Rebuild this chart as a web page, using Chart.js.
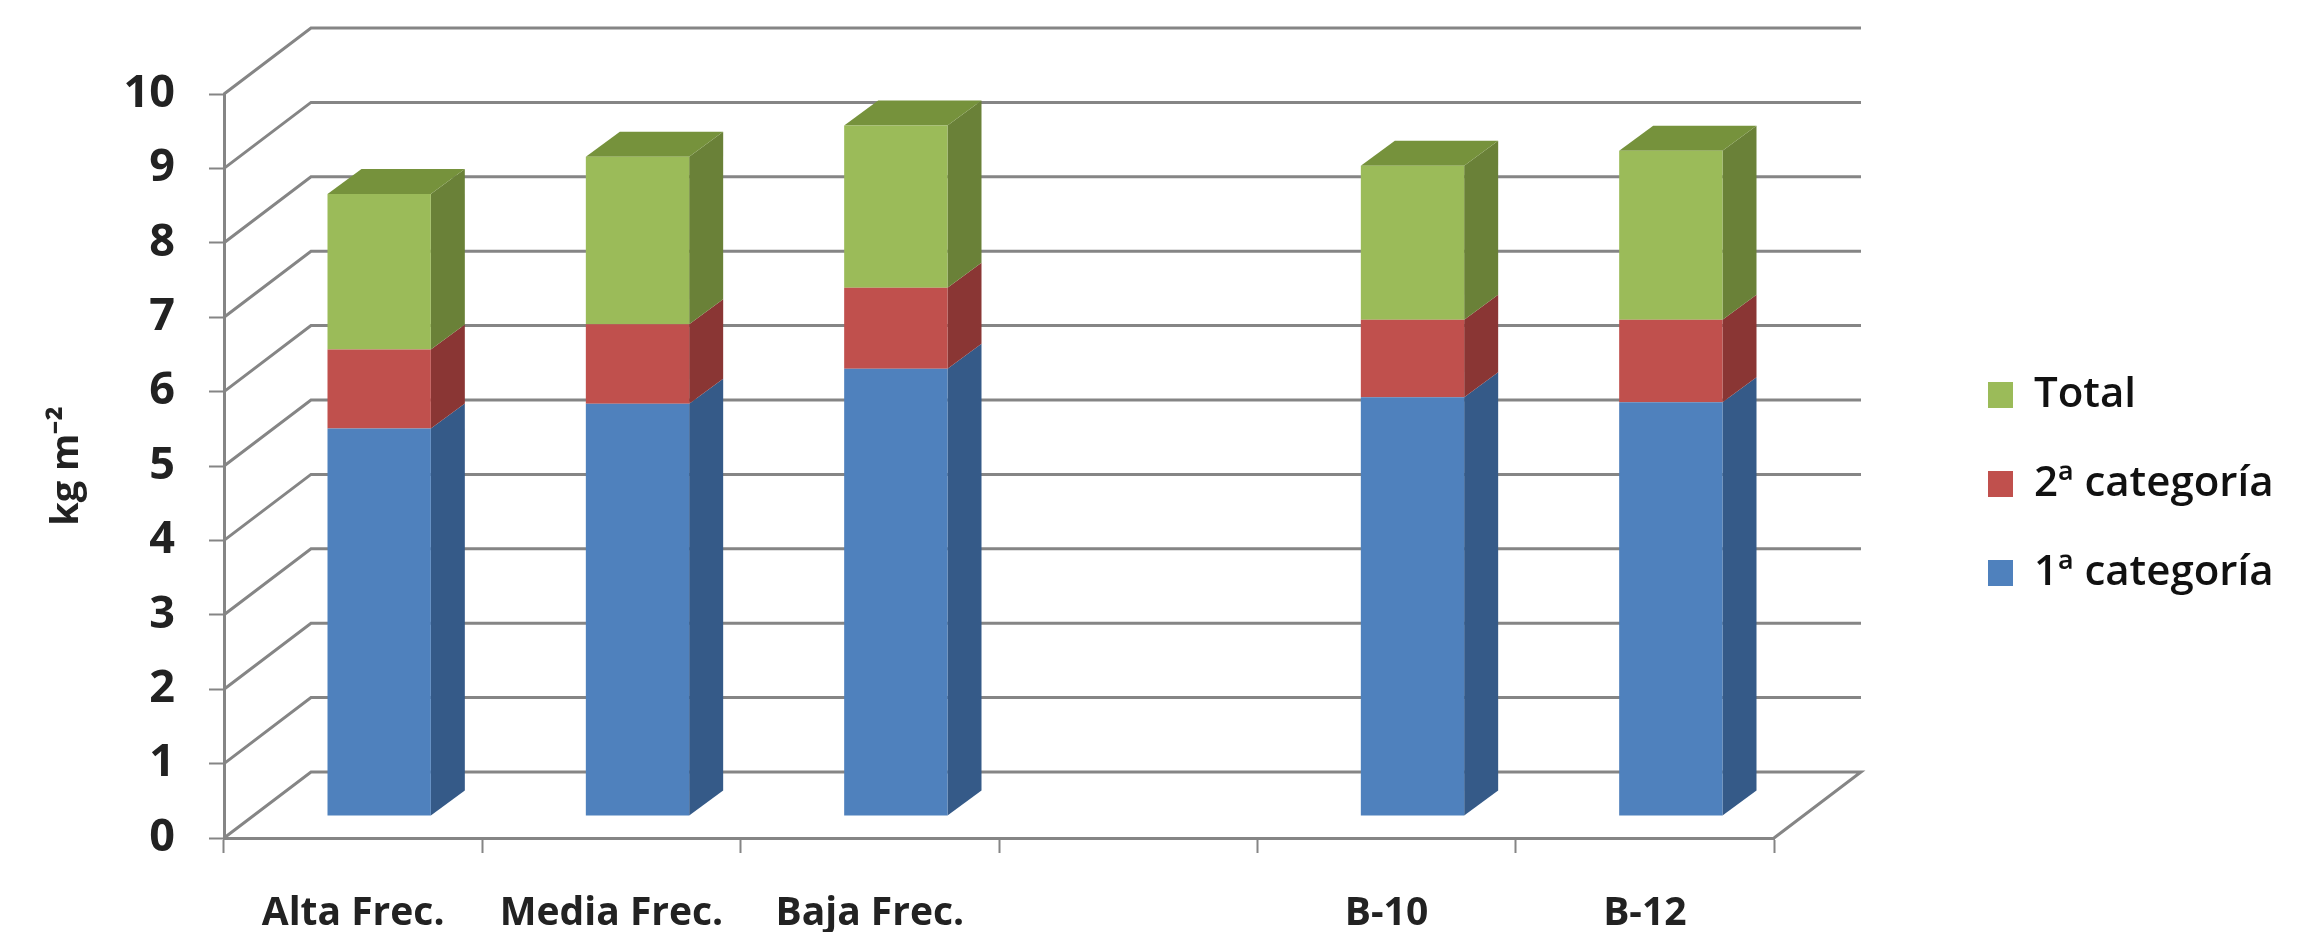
<!DOCTYPE html>
<html>
<head>
<meta charset="utf-8">
<title>kg m-2</title>
<script src="https://cdn.jsdelivr.net/npm/chart.js@4/dist/chart.umd.min.js"></script>
<style>
  html, body { margin: 0; padding: 0; background: #fff; overflow: hidden; }
  canvas { display: block; }
</style>
</head>
<body>
<canvas id="grafico" width="2313" height="932"></canvas>
<script>
// datos
const categorias = ['Alta Frec.', 'Media Frec.', 'Baja Frec.', '', 'B-10', 'B-12'];
const primera = [5.21, 5.54, 6.01, null, 5.63, 5.56];
const segunda = [1.06, 1.07, 1.09, null, 1.04, 1.11];
const total = [2.09, 2.25, 2.18, null, 2.07, 2.27];
const yMin = 0;
const yMax = 10;
const yPaso = 1;

const GRIS = '#858585';
const LETRA = "'Open Sans', sans-serif";

// desplazamientos de la perspectiva 3D
const fondo = { x: 87, y: -66 };     // pared del fondo
const frente = { x: 26, y: -22 };    // cara frontal de las barras
const lado = { x: 34, y: -25 };      // profundidad de las barras

const coloresLado = ['#355A88', '#8A3634', '#6A8138'];
const colorTapa = '#76923C';

function poligono(ctx, puntos, color) {
    ctx.fillStyle = color;
    ctx.beginPath();
    puntos.forEach((p, i) => i ? ctx.lineTo(p[0], p[1]) : ctx.moveTo(p[0], p[1]));
    ctx.closePath();
    ctx.fill();
}

const perspectiva = {
    id: 'perspectiva',
    afterInit(chart) {
        // la leyenda ocupa todo el margen derecho
        const leyenda = chart.legend;
        const fit = leyenda.fit;
        leyenda.fit = function () {
            fit.call(this);
            this.width = 539;
        };
    },
    afterLayout(chart) {
        const leyenda = chart.legend;
        leyenda.left = 1941;
        leyenda.top = 303;
        leyenda.bottom = 665;
    },
    beforeDatasetsDraw(chart) {
        const { ctx, chartArea, scales } = chart;
        ctx.save();
        ctx.strokeStyle = GRIS;
        ctx.lineWidth = 3;
        // pared del fondo y lineas de profundidad
        scales.y.ticks.forEach(t => {
            const py = scales.y.getPixelForValue(t.value);
            ctx.beginPath();
            ctx.moveTo(chartArea.left, py);
            ctx.lineTo(chartArea.left + fondo.x, py + fondo.y);
            ctx.lineTo(chartArea.right + fondo.x, py + fondo.y);
            if (t.value === yMin) ctx.lineTo(chartArea.right, py);
            ctx.stroke();
        });
        // caras laterales y tapa de las barras
        chart.data.datasets.forEach((ds, i) => {
            chart.getDatasetMeta(i).data.forEach((el, j) => {
                if (ds.data[j] === null) return;
                const b = el.getProps(['x', 'y', 'base', 'width'], true);
                const izq = b.x - b.width / 2 + frente.x;
                const der = b.x + b.width / 2 + frente.x;
                const arriba = b.y + frente.y;
                const abajo = b.base + frente.y;
                poligono(ctx, [
                    [der, arriba], [der + lado.x, arriba + lado.y],
                    [der + lado.x, abajo + lado.y], [der, abajo]
                ], coloresLado[i]);
                if (i === chart.data.datasets.length - 1) {
                    poligono(ctx, [
                        [izq, arriba], [izq + lado.x, arriba + lado.y],
                        [der + lado.x, arriba + lado.y], [der, arriba]
                    ], colorTapa);
                }
            });
        });
        // las caras frontales las dibuja Chart.js, desplazadas
        ctx.translate(frente.x, frente.y);
    },
    afterDatasetsDraw(chart) {
        chart.ctx.restore();
    }
};

new Chart(document.getElementById('grafico').getContext('2d'), {
    type: 'bar',
    data: {
        labels: categorias,
        datasets: [
            { label: '1ª categoría', data: primera, backgroundColor: '#4F81BD' },
            { label: '2ª categoría', data: segunda, backgroundColor: '#C0504D' },
            { label: 'Total', data: total, backgroundColor: '#9BBB59' }
        ]
    },
    options: {
        responsive: false,
        animation: false,
        categoryPercentage: 1,
        barPercentage: 0.4,
        layout: { padding: { top: 94, left: 0, right: 0, bottom: 0 } },
        plugins: {
            tooltip: { enabled: false },
            legend: {
                position: 'right',
                reverse: true,
                labels: {
                    color: '#111',
                    boxWidth: 25,
                    boxHeight: 26,
                    padding: 47,
                    font: { family: LETRA, size: 42, weight: '600' }
                }
            }
        },
        scales: {
            x: {
                stacked: true,
                afterFit(scale) { scale.height = 94; },
                border: { color: GRIS, width: 3 },
                grid: { drawOnChartArea: false, tickLength: 15, tickWidth: 2, tickColor: GRIS, offset: true },
                ticks: {
                    color: '#222',
                    padding: 37,
                    maxRotation: 0,
                    autoSkip: false,
                    font: { family: LETRA, size: 39, weight: 'bold' }
                }
            },
            y: {
                stacked: true,
                min: yMin,
                max: yMax,
                afterFit(scale) { scale.width = 224; },
                border: { color: GRIS, width: 3 },
                grid: { drawOnChartArea: false, tickLength: 15, tickWidth: 2, tickColor: GRIS },
                ticks: {
                    stepSize: yPaso,
                    color: '#222',
                    padding: 34,
                    font: { family: LETRA, size: 45, weight: 'bold' }
                },
                title: {
                    display: true,
                    text: 'kg m⁻²',
                    color: '#222',
                    padding: { top: 44, bottom: 0 },
                    font: { family: LETRA, size: 38, weight: 'bold' }
                }
            }
        }
    },
    plugins: [perspectiva]
});
</script>
</body>
</html>
